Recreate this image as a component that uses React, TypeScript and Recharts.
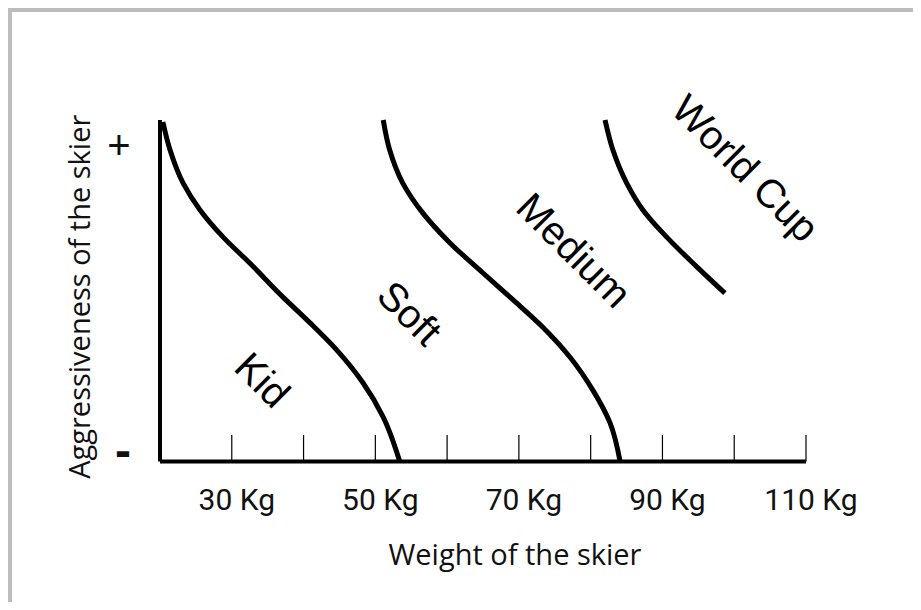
import { LineChart, Line, XAxis, YAxis, ReferenceDot } from 'recharts'

// weight (kg) and aggressiveness level (0..100)
const kidKg = [20.4, 21.4, 23.2, 25.6, 28.8, 32.5, 37.1, 40.9, 44.6, 48.3, 51.1, 53.4]
const kidLevel = [99.4, 91.2, 81.6, 73.6, 65.7, 58.1, 48.2, 40.6, 32.7, 23.0, 13.0, 0]

const softKg = [51.1, 52.0, 53.8, 56.6, 60.4, 65.0, 69.2, 73.3, 77.1, 80.3, 82.7, 84.1]
const softLevel = [100, 91.2, 81.6, 72.8, 64.0, 55.2, 47.3, 39.4, 30.6, 20.9, 11.3, 0]

const worldCupKg = [82.0, 83.1, 85.0, 87.3, 90.6, 94.8, 98.7]
const worldCupLevel = [100, 91.2, 81.6, 73.6, 65.7, 57.0, 49.3]

const xTicks = [30, 40, 50, 60, 70, 80, 90, 100, 110]
const xTickLabels = ['30 Kg', '', '50 Kg', '', '70 Kg', '', '90 Kg', '', '110 Kg']

const yTicks = [3.2, 92.7]
const yTickLabels = ['-', '+']

const zoneNames = ['Kid', 'Soft', 'Medium', 'World Cup']
const zoneKg = [34.3, 54.8, 77.7, 101.6]
const zoneLevel = [23.9, 43.5, 61.9, 85.9]

const toPoints = (xs: number[], ys: number[]) => xs.map((x, i) => ({ x, y: ys[i] }))

const kidData = toPoints(kidKg, kidLevel)
const softData = toPoints(softKg, softLevel)
const worldCupData = toPoints(worldCupKg, worldCupLevel)

const XTick = (props: any) => {
  const { x, y, payload } = props
  const label = xTickLabels[xTicks.indexOf(payload.value)]
  return (
    <g>
      <line x1={x} x2={x} y1={y - 26.5} y2={y} stroke="#000" strokeWidth={1.2} />
      {label ? (
        <text x={x + 5} y={y + 48.5} textAnchor="middle" fontFamily="Roboto" fontSize={30} fill="#111">
          {label}
        </text>
      ) : null}
    </g>
  )
}

const YTick = (props: any) => {
  const { x, y, payload } = props
  const label = yTickLabels[yTicks.indexOf(payload.value)]
  const plus = label === '+'
  return (
    <text
      x={x - (plus ? 41 : 37)}
      y={y}
      textAnchor="middle"
      dominantBaseline="central"
      fontFamily="Liberation Sans"
      fontSize={plus ? 40 : 48}
      fontWeight={plus ? 400 : 700}
      fill="#111"
    >
      {label}
    </text>
  )
}

const XTitle = (props: any) => {
  const vb = props.viewBox
  return (
    <text x={vb.x + vb.width / 2 + 32} y={vb.y + 103.5} textAnchor="middle" fontFamily="Open Sans" fontSize={29} fill="#111">
      Weight of the skier
    </text>
  )
}

const YTitle = (props: any) => {
  const vb = props.viewBox
  const tx = vb.x + vb.width - 70
  const ty = vb.y + vb.height / 2 + 6
  return (
    <text x={tx} y={ty} transform={`rotate(-90 ${tx} ${ty})`} textAnchor="middle" fontFamily="Open Sans" fontSize={29} fill="#111">
      Aggressiveness of the skier
    </text>
  )
}

const zoneLabel = (name: string) => (p: any) => (
  <text
    x={p.cx}
    y={p.cy}
    transform={`rotate(45 ${p.cx} ${p.cy})`}
    textAnchor="middle"
    dominantBaseline="central"
    fontFamily="Liberation Sans"
    fontSize={40}
    fill="#000"
  >
    {name}
  </text>
)

export default function App() {
  return (
    <div style={{ width: 901, height: 590, borderTop: '4px solid #bdbdbd', borderLeft: '4px solid #bdbdbd' }}>
      <LineChart width={901} height={590} margin={{ top: 108, right: 107, bottom: 110.5, left: 118 }}>
        <XAxis
          dataKey="x"
          type="number"
          domain={[20, 110]}
          ticks={xTicks}
          interval={0}
          height={30}
          tickLine={false}
          tickSize={0}
          tickMargin={0}
          tick={<XTick />}
          axisLine={{ stroke: '#000', strokeWidth: 4 }}
          label={<XTitle />}
        />
        <YAxis
          type="number"
          domain={[0, 100]}
          ticks={yTicks}
          interval={0}
          width={30}
          tickLine={false}
          tickSize={0}
          tickMargin={0}
          tick={<YTick />}
          axisLine={{ stroke: '#000', strokeWidth: 4 }}
          label={<YTitle />}
        />
        <Line data={kidData} dataKey="y" type="monotoneY" stroke="#000" strokeWidth={5} dot={false} isAnimationActive={false} />
        <Line data={softData} dataKey="y" type="monotoneY" stroke="#000" strokeWidth={5} dot={false} isAnimationActive={false} />
        <Line data={worldCupData} dataKey="y" type="monotoneY" stroke="#000" strokeWidth={5} dot={false} isAnimationActive={false} />
        {zoneNames.map((name, i) => (
          <ReferenceDot key={name} x={zoneKg[i]} y={zoneLevel[i]} r={0} shape={zoneLabel(name)} />
        ))}
      </LineChart>
    </div>
  )
}
